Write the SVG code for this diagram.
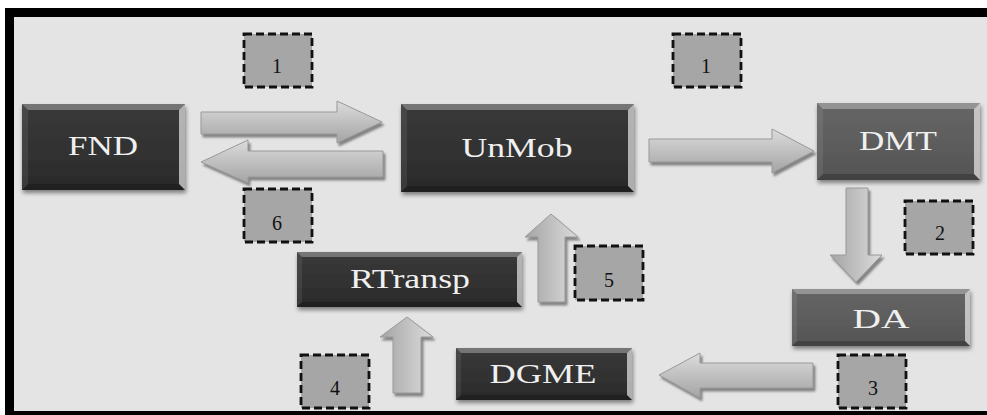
<svg xmlns="http://www.w3.org/2000/svg" width="987" height="415" viewBox="0 0 987 415">
<style>
.dk{fill:url(#gdk)}
.md{fill:url(#gmd)}
.bt{fill:#fff;fill-opacity:.3}
.br{fill:#fff;fill-opacity:.62}
.bl{fill:#fff;fill-opacity:.08}
.bb{fill:#000;fill-opacity:.22}
.lbl{font-family:"Liberation Serif","Times New Roman",serif;font-size:28px;fill:#f0f0f0;text-anchor:middle}
.num{font-family:"Liberation Serif","Times New Roman",serif;font-size:20px;fill:#111;text-anchor:middle}
.nb{fill:#a6a6a6;stroke:#111;stroke-width:2.8;stroke-dasharray:8 4}
.ah{fill:url(#gh);stroke:#999;stroke-width:1;filter:url(#ash)}
.av{fill:url(#gv);stroke:#999;stroke-width:1;filter:url(#ash)}
</style>
<defs>
<linearGradient id="gh" x1="0" y1="0" x2="0" y2="1">
<stop offset="0" stop-color="#dcdcdc"/>
<stop offset="1" stop-color="#a4a4a4"/>
</linearGradient>
<linearGradient id="gv" x1="0" y1="0" x2="1" y2="0">
<stop offset="0" stop-color="#a4a4a4"/>
<stop offset="1" stop-color="#dcdcdc"/>
</linearGradient>
<linearGradient id="gdk" x1="0" y1="0" x2="0" y2="1">
<stop offset="0" stop-color="#3a3a3a"/>
<stop offset="1" stop-color="#2a2a2a"/>
</linearGradient>
<linearGradient id="gmd" x1="0" y1="0" x2="0" y2="1">
<stop offset="0" stop-color="#666"/>
<stop offset="1" stop-color="#545454"/>
</linearGradient>
<filter id="ash" x="-10%" y="-10%" width="130%" height="130%">
<feDropShadow dx="2" dy="3" stdDeviation="0.8" flood-color="#6a6a6a" flood-opacity="0.8"/>
</filter>
<filter id="bsh" x="-10%" y="-10%" width="130%" height="130%">
<feDropShadow dx="1" dy="3" stdDeviation="2" flood-color="#000" flood-opacity="0.45"/>
</filter>
</defs>
<rect x="5" y="8" width="982" height="407" fill="#000"/>
<rect x="14" y="17" width="973" height="394" fill="#e4e4e4"/>

<g id="connectors">
<path class="ah" d="M201,112 H337 V101 L382,122 L337,143 V134 H201 Z"/>
<path class="ah" d="M383,151 H248 V140 L201,162 L248,183 V177 H383 Z"/>
<path class="ah" d="M649,139 H772 V129 L814,151 L772,173 V162 H649 Z"/>
<path class="av" d="M846,188 H868 V255 H882 L856,282 L830,255 H846 Z"/>
<path class="ah" d="M813,363 H700 V353 L659,375 L700,398 V388 H813 Z"/>
<path class="av" d="M393,393 V337 H380 L407,317 L433,337 H421 V393 Z"/>
<path class="av" d="M538,302 V237 H525 L551,214 L578,237 H565 V302 Z"/>
</g>

<g id="label1a"><rect class="nb" x="244" y="34" width="68" height="53"/><text class="num" x="277" y="73">1</text></g>
<g id="label1b"><rect class="nb" x="673" y="34" width="68" height="53"/><text class="num" x="706" y="73">1</text></g>
<g id="label6"><rect class="nb" x="244" y="189" width="68" height="53"/><text class="num" x="277" y="230">6</text></g>
<g id="label2"><rect class="nb" x="905" y="201" width="68" height="53"/><text class="num" x="940" y="240">2</text></g>
<g id="label5"><rect class="nb" x="575" y="246" width="68" height="54"/><text class="num" x="609" y="287">5</text></g>
<g id="label3"><rect class="nb" x="838" y="355" width="68" height="53"/><text class="num" x="873" y="395">3</text></g>
<g id="label4"><rect class="nb" x="301" y="355" width="68" height="53"/><text class="num" x="335" y="395">4</text></g>

<g id="FND">
<rect class="dk" x="22" y="104" width="163" height="86" filter="url(#bsh)"/>
<polygon class="bt" points="22,104 185,104 179,110 28,110"/>
<polygon class="br" points="185,104 185,190 179,184 179,110"/>
<polygon class="bl" points="22,104 28,110 28,184 22,190"/>
<polygon class="bb" points="22,190 28,184 179,184 185,190"/>
<text class="lbl" x="103" y="155" textLength="70" lengthAdjust="spacingAndGlyphs">FND</text>
</g>
<g id="UnMob">
<rect class="dk" x="401" y="104" width="233" height="88" filter="url(#bsh)"/>
<polygon class="bt" points="401,104 634,104 628,110 407,110"/>
<polygon class="br" points="634,104 634,192 628,186 628,110"/>
<polygon class="bl" points="401,104 407,110 407,186 401,192"/>
<polygon class="bb" points="401,192 407,186 628,186 634,192"/>
<text class="lbl" x="517" y="157" textLength="111" lengthAdjust="spacingAndGlyphs">UnMob</text>
</g>
<g id="DMT">
<rect class="md" x="817" y="103" width="163" height="77" filter="url(#bsh)"/>
<polygon class="bt" points="817,103 980,103 974,109 823,109"/>
<polygon class="br" points="980,103 980,180 974,174 974,109"/>
<polygon class="bl" points="817,103 823,109 823,174 817,180"/>
<polygon class="bb" points="817,180 823,174 974,174 980,180"/>
<text class="lbl" x="898" y="150" textLength="78" lengthAdjust="spacingAndGlyphs">DMT</text>
</g>
<g id="RTransp">
<rect class="dk" x="297" y="252" width="225" height="55" filter="url(#bsh)"/>
<polygon class="bt" points="297,252 522,252 517,257 302,257"/>
<polygon class="br" points="522,252 522,307 517,302 517,257"/>
<polygon class="bl" points="297,252 302,257 302,302 297,307"/>
<polygon class="bb" points="297,307 302,302 517,302 522,307"/>
<text class="lbl" x="410" y="288" textLength="120" lengthAdjust="spacingAndGlyphs">RTransp</text>
</g>
<g id="DA">
<rect class="md" x="792" y="289" width="178" height="57" filter="url(#bsh)"/>
<polygon class="bt" points="792,289 970,289 965,294 797,294"/>
<polygon class="br" points="970,289 970,346 965,341 965,294"/>
<polygon class="bl" points="792,289 797,294 797,341 792,346"/>
<polygon class="bb" points="792,346 797,341 965,341 970,346"/>
<text class="lbl" x="881" y="328" textLength="57" lengthAdjust="spacingAndGlyphs">DA</text>
</g>
<g id="DGME">
<rect class="dk" x="456" y="348" width="176" height="52" filter="url(#bsh)"/>
<polygon class="bt" points="456,348 632,348 627,353 461,353"/>
<polygon class="br" points="632,348 632,400 627,395 627,353"/>
<polygon class="bl" points="456,348 461,353 461,395 456,400"/>
<polygon class="bb" points="456,400 461,395 627,395 632,400"/>
<text class="lbl" x="543" y="383" textLength="107" lengthAdjust="spacingAndGlyphs">DGME</text>
</g>
</svg>
